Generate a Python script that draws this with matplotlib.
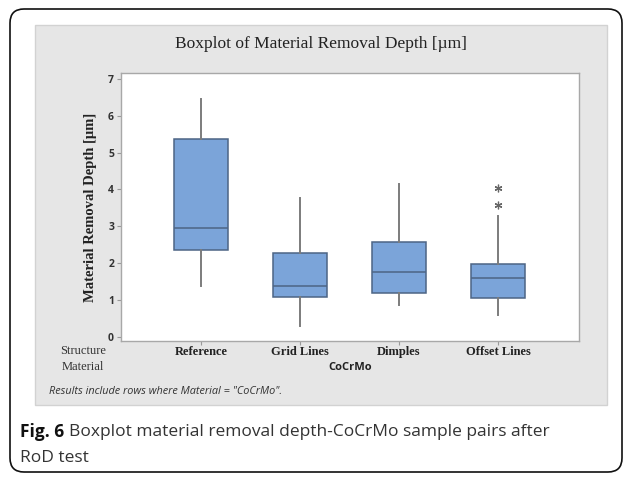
"""Boxplot of material removal depth (CoCrMo sample pairs), Minitab-style."""

import matplotlib

matplotlib.use("Agg")
import matplotlib.pyplot as plt
from matplotlib.patches import FancyBboxPatch, Rectangle

# data (um)
structures = ["Reference", "Grid Lines", "Dimples", "Offset Lines"]
whisker_lo = [1.38, 0.29, 0.86, 0.59]
q1 = [2.37, 1.08, 1.18, 1.06]
median = [2.96, 1.38, 1.77, 1.60]
q3 = [5.36, 2.27, 2.58, 1.98]
whisker_hi = [6.45, 3.76, 4.14, 3.29]
outliers = [[], [], [], [3.58, 4.03]]
y_ticks = [0, 1, 2, 3, 4, 5, 6, 7]

W, H = 627, 479
BOX = "#7BA4D9"
EDGE = "#4D6585"
WHISK = "#7C7C7C"
PANEL = "#E6E6E6"
SERIF = "Liberation Serif"
SANS = "Open Sans"


def fx(px):
    return px / W


def fy(py):
    return 1 - py / H


fig = plt.figure(figsize=(W / 100, H / 100), dpi=100)
fig.patch.set_facecolor("white")

# background decoration in figure coords
bg = fig.add_axes([0, 0, 1, 1], zorder=-1)
bg.set_xlim(0, W); bg.set_ylim(H, 0); bg.axis("off")
bg.add_patch(FancyBboxPatch((10, 9), 612, 463, boxstyle="round,pad=0,rounding_size=14",
                            linewidth=1.2, edgecolor="#111111", facecolor="white"))
bg.add_patch(Rectangle((35, 25), 572, 380, linewidth=1, edgecolor="#D2D2D2", facecolor=PANEL))

ax = fig.add_axes([fx(121), fy(341), fx(579 - 121), (341 - 73) / H])
stats = []
for i, name in enumerate(structures):
    stats.append(dict(label=name, whislo=whisker_lo[i], q1=q1[i], med=median[i],
                      q3=q3[i], whishi=whisker_hi[i], fliers=outliers[i]))
ax.bxp(stats, positions=range(1, len(structures) + 1), widths=0.54, patch_artist=True,
       showcaps=False,
       boxprops=dict(facecolor=BOX, edgecolor=EDGE, linewidth=1.1),
       medianprops=dict(color=EDGE, linewidth=1.1),
       whiskerprops=dict(color=WHISK, linewidth=1.4),
       flierprops=dict(marker=(6, 2, 0), markersize=5.5, markeredgecolor="#666666",
                       markeredgewidth=0.9, linestyle="none"))

ax.set_xlim(0.19, 4.82)
ax.set_ylim(-0.11, 7.16)
ax.set_yticks(y_ticks)
ax.set_yticklabels([str(t) for t in y_ticks], fontsize=7.5, fontweight="bold",
                   family=SANS, color="#333333")
ax.set_xticks(range(1, len(structures) + 1))
ax.set_xticklabels([])
ax.tick_params(axis="both", length=3, width=0.8, color="#999999", pad=2)
for s in ax.spines.values():
    s.set_color("#A8A8A8")
    s.set_linewidth(1.0)

ax.set_ylabel("Material Removal Depth [µm]", family=SERIF, fontsize=10.5,
              fontweight="bold", color="#222222", labelpad=8)

# title
fig.text(fx(321), fy(44), "Boxplot of Material Removal Depth [µm]", family=SERIF,
         fontsize=12.5, ha="center", va="center", color="#222222")

# category labels under the axes
for i, name in enumerate(structures):
    xd = ax.transData.transform((i + 1, 0))[0] / W
    fig.text(xd, fy(352), name, family=SERIF, fontsize=9, fontweight="bold",
             ha="center", va="center", color="#222222")
fig.text(fx(83), fy(351), "Structure", family=SERIF, fontsize=9, ha="center",
         va="center", color="#333333")
fig.text(fx(83), fy(367), "Material", family=SERIF, fontsize=9, ha="center",
         va="center", color="#333333")
fig.text(fx(350), fy(368), "CoCrMo", family=SANS, fontsize=8, fontweight="bold",
         ha="center", va="center", color="#222222")
fig.text(fx(49), fy(392), 'Results include rows where Material = "CoCrMo".', family=SANS,
         fontsize=7.8, style="italic", ha="left", va="center", color="#333333")

# caption
t1 = fig.text(fx(20), fy(432), "Fig. 6", family=SANS, fontsize=12.5, fontweight="bold",
              ha="left", va="center", color="#111111")
fig.canvas.draw()
bb = t1.get_window_extent()
fig.text(bb.x1 / W + fx(5), fy(432), "Boxplot material removal depth-CoCrMo sample pairs after",
         family=SANS, fontsize=12.5, ha="left", va="center", color="#333333")
fig.text(fx(20), fy(458), "RoD test", family=SANS, fontsize=12.5, ha="left",
         va="center", color="#333333")

fig.savefig("out.png", dpi=100)
